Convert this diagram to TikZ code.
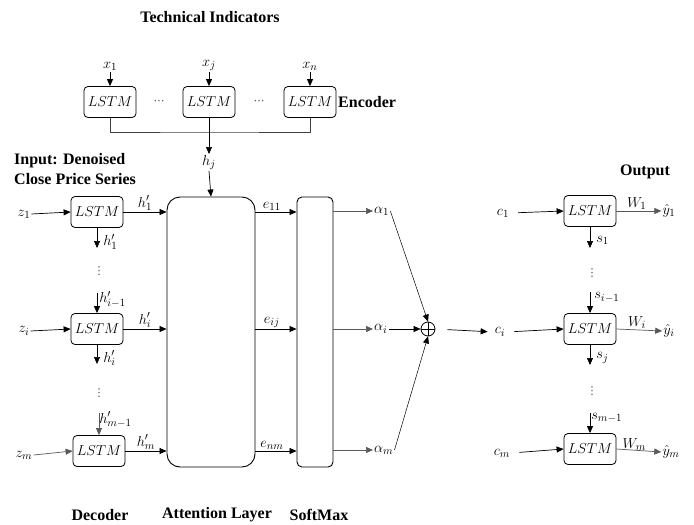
\documentclass[tikz,border=0pt]{standalone}
\usepackage{fontspec}
\setmainfont{Liberation Serif}
\newfontfamily\djv{DejaVu Sans}
\usetikzlibrary{arrows.meta,calc}
\begin{document}
\begin{tikzpicture}[x=1pt,y=-1pt,
  lstm/.style={draw,rounded corners=4pt,line width=0.8pt,minimum width=52pt,minimum height=31pt,inner sep=0pt,font=\fontsize{14}{16}\selectfont},
  arr/.style={-{Triangle[length=7pt,width=6pt]},line width=0.7pt},
  garr/.style={-{Triangle[length=7pt,width=6pt]},line width=0.7pt,draw=black!65},
  lbl/.style={font=\fontsize{15.5}{18}\selectfont,inner sep=1pt},
  dts/.style={font=\djv\fontsize{11}{12}\selectfont,inner sep=0pt,text=black!70},
  ttl/.style={font=\bfseries\fontsize{16}{18}\selectfont,inner sep=0pt}]
\useasboundingbox (0,0) rectangle (694,525);
% titles
\node[ttl] (tti) at (210,17) {Technical Indicators};
\node[ttl,anchor=west] (enc) at (338,102) {Encoder};
\node[ttl,anchor=west,align=left] (inp) at (14,169) {Input: Denoised\\[2pt]Close Price Series};
\node[ttl] (outt) at (645,172) {Output};
\node[ttl] (dec) at (100,515) {Decoder};
\node[ttl] (attl) at (217,515) {Attention Layer};
\node[ttl] (sml) at (319,515) {SoftMax};
% encoder
\node[lstm] (e1) at (110,102) {$LSTM$};
\node[lstm] (e2) at (209,102) {$LSTM$};
\node[lstm] (e3) at (310,102) {$LSTM$};
\node[dts] (edots1) at (159,102) {⋯};
\node[dts] (edots2) at (259,102) {⋯};
\node[lbl,anchor=south] (x1) at (110,72) {$x_1$};
\node[lbl,anchor=south] (xj) at (209,72) {$x_j$};
\node[lbl,anchor=south] (xn) at (310,72) {$x_n$};
\draw[arr] (x1.south) -- (e1.north);
\draw[arr] (xj.south) -- (e2.north);
\draw[arr] (xn.south) -- (e3.north);
\coordinate (bus) at (209,132);
\draw[line width=0.6pt,draw=black!75] (e1.south) |- (bus) -| (e3.south);
\node[lbl,anchor=north] (hj) at (209,154) {$h_j$};
\draw[arr] (e2.south) -- (hj.north);
% attention and softmax
\node[draw,rounded corners=13pt,line width=0.9pt,minimum width=88pt,minimum height=270pt,inner sep=0pt] (att) at (211,332) {};
\node[draw,rounded corners=5pt,line width=0.9pt,minimum width=36pt,minimum height=270pt,inner sep=0pt] (sm) at (315,332) {};
\draw[arr] (hj.south) -- (att.north);
% decoder
\node[lstm] (d1) at (97,212) {$LSTM$};
\node[lstm] (d2) at (97,329) {$LSTM$};
\node[lstm] (d3) at (99,451) {$LSTM$};
\node[lbl] (z1) at (24,214) {$z_1$};
\node[lbl] (zi) at (24,331) {$z_i$};
\node[lbl] (zm) at (24,455) {$z_m$};
\draw[arr] (z1.east) -- (d1.west);
\draw[arr] (zi.east) -- (d2.west);
\draw[arr,draw=black!65] (zm.east) -- (d3.west);
\draw[arr] (d1.east) -- (d1.east -| att.west) node[lbl,midway,above] {$h'_1$};
\draw[arr] (d2.east) -- (d2.east -| att.west) node[lbl,midway,above] {$h'_i$};
\draw[arr] (d3.east) -- (d3.east -| att.west) node[lbl,midway,above] {$h'_m$};
\coordinate (d1b) at (97,248);
\draw[arr] (d1.south) -- (d1b) node[lbl,pos=0.7,right=5pt] {$h'_1$};
\node[dts] (dd1) at (99,271) {⋮};
\coordinate (d2t) at (97,293);
\draw[arr] (d2t) -- (d2.north) node[lbl,pos=0.3,right=1pt] {$h'_{i-1}$};
\coordinate (d2b) at (97,364);
\draw[arr] (d2.south) -- (d2b) node[lbl,pos=0.7,right=5pt] {$h'_i$};
\node[dts] (dd2) at (99,393) {⋮};
\coordinate (d3t) at (99,413);
\draw[arr,draw=black!65] (d3t) -- (d3.north) node[lbl,pos=0.3,right=-1pt] {$h'_{m-1}$};
% e labels
\draw[arr] (att.east |- d1.east) -- (sm.west |- d1.east) node[lbl,pos=0.4,above] {$e_{11}$};
\draw[arr] (att.east |- d2.east) -- (sm.west |- d2.east) node[lbl,pos=0.4,above] {$e_{ij}$};
\draw[arr] (att.east |- d3.east) -- (sm.west |- d3.east) node[lbl,pos=0.4,above] {$e_{nm}$};
% alphas
\node[lbl,anchor=west] (a1) at (373,211) {$\alpha_1$};
\node[lbl,anchor=west] (ai) at (373,329) {$\alpha_i$};
\node[lbl,anchor=west] (am) at (373,450) {$\alpha_m$};
\draw[garr] (sm.east |- a1.west) -- (a1.west);
\draw[garr] (sm.east |- ai.west) -- (ai.west);
\draw[garr] (sm.east |- am.west) -- (am.west);
\node[draw,circle,line width=0.8pt,minimum size=14pt,inner sep=0pt,
  path picture={\draw[line width=0.6pt] (path picture bounding box.north) -- (path picture bounding box.south) (path picture bounding box.west) -- (path picture bounding box.east);}] (op) at (428,329) {};
\draw[arr,line width=0.5pt] (a1.east) -- (op.north);
\draw[arr,line width=0.5pt] (ai.east) -- (op.west);
\draw[arr,line width=0.5pt] (am.east) -- (op.south);
% output decoder
\node[lbl] (c1) at (503,213) {$c_1$};
\node[lbl] (ci) at (500,332) {$c_i$};
\node[lbl] (cm) at (502,453) {$c_m$};
\draw[arr,shorten <=12pt,shorten >=6pt] (op.east) -- (ci.west);
\node[lstm] (o1) at (590,211) {$LSTM$};
\node[lstm] (o2) at (590,329) {$LSTM$};
\node[lstm] (o3) at (590,449) {$LSTM$};
\draw[arr,shorten <=8pt] (c1.east) -- (o1.west);
\draw[arr,shorten <=8pt] (ci.east) -- (o2.west);
\draw[arr,shorten <=8pt] (cm.east) -- (o3.west);
\node[lbl] (y1) at (669,211) {$\hat{y}_1$};
\node[lbl] (yi) at (669,331) {$\hat{y}_i$};
\node[lbl] (ym) at (671,452) {$\hat{y}_m$};
\draw[garr] (o1.east) -- (y1.west) node[lbl,pos=0.45,above,text=black] {$W_1$};
\draw[garr] (o2.east) -- (yi.west) node[lbl,pos=0.45,above,text=black] {$W_i$};
\draw[garr] (o3.east) -- (ym.west) node[lbl,pos=0.4,above=-2pt,text=black] {$W_m$};
\coordinate (o1b) at (590,248);
\draw[arr] (o1.south) -- (o1b) node[lbl,pos=0.65,right=5pt] {$s_1$};
\node[dts] (od1) at (592,273) {⋮};
\coordinate (o2t) at (590,292);
\draw[arr] (o2t) -- (o2.north) node[lbl,pos=0.25,right=3pt] {$s_{i-1}$};
\coordinate (o2b) at (590,365);
\draw[arr] (o2.south) -- (o2b) node[lbl,pos=0.65,right=5pt] {$s_j$};
\node[dts] (od2) at (592,391) {⋮};
\coordinate (o3t) at (590,413);
\draw[arr] (o3t) -- (o3.north) node[lbl,pos=0.25,right=0pt] {$s_{m-1}$};
\end{tikzpicture}
\end{document}
